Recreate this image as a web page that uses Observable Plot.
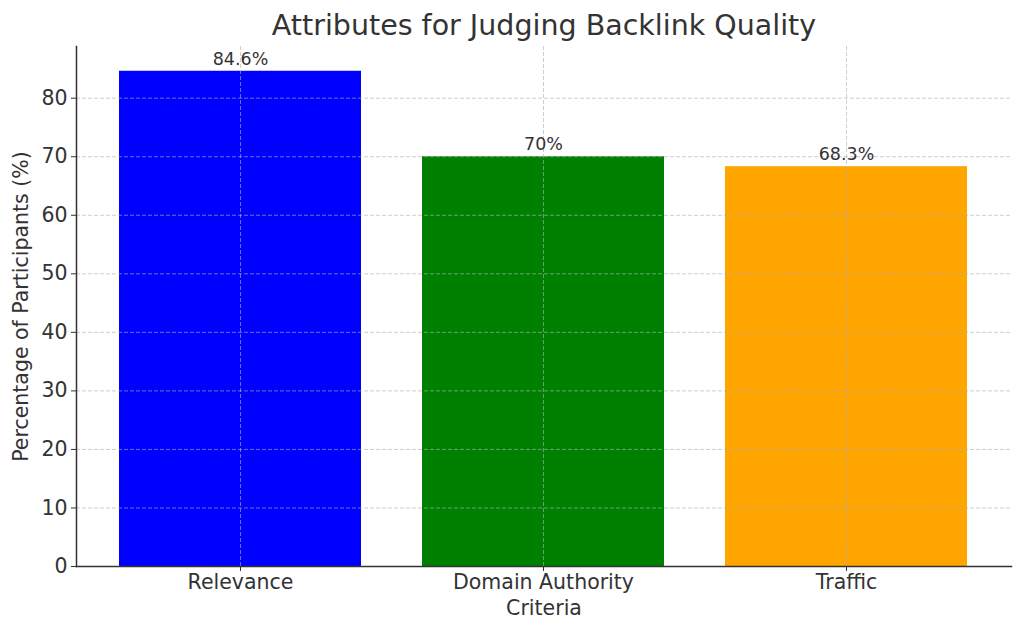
<!DOCTYPE html>
<html>
<head>
<meta charset="utf-8">
<script src="https://cdn.jsdelivr.net/npm/d3@7"></script>
<script src="https://cdn.jsdelivr.net/npm/@observablehq/plot@0.6"></script>
<style>
  html, body { margin: 0; padding: 0; background: #fff; }
  svg { font-family: "DejaVu Sans", sans-serif; }
</style>
</head>
<body>
<div id="chart"></div>
<script>
const categories = ["Relevance", "Domain Authority", "Traffic"];
const percentages = [84.6, 70, 68.3];
const barLabels = ["84.6%", "70%", "68.3%"];
const colors = ["#0000ff", "#008000", "#ffa500"];
const yTicks = [0, 10, 20, 30, 40, 50, 60, 70, 80];
const titleText = "Attributes for Judging Backlink Quality";

const data = categories.map((c, i) => ({category: c, value: percentages[i], label: barLabels[i], color: colors[i]}));
const ink = "#333333";

const chart = Plot.plot({
  width: 1024,
  height: 635,
  marginLeft: 76,
  marginRight: 13,
  marginTop: 46,
  marginBottom: 69,
  style: {fontFamily: "DejaVu Sans, sans-serif", fontSize: "20px", color: ink, background: "#fff"},
  x: {domain: categories, paddingInner: 0.2, paddingOuter: 0.138, label: null},
  y: {domain: [0, 84.6 * 1.05], label: null},
  marks: [
    Plot.barY(data, {x: "category", y: "value", fill: "color"}),
    Plot.gridY(yTicks, {stroke: "#b0b0b0", strokeOpacity: 0.7, strokeDasharray: "4,2", strokeWidth: 0.9}),
    Plot.gridX(categories, {stroke: "#b0b0b0", strokeOpacity: 0.7, strokeDasharray: "4,2", strokeWidth: 0.9}),
    Plot.axisY(yTicks, {tickSize: 5, tickPadding: 4, fontSize: 20.5, fill: ink, stroke: ink, label: null}),
    Plot.axisX({tickSize: 5, tickPadding: 3, fontSize: 20.5, fill: ink, stroke: ink, label: null}),
    Plot.frame({anchor: "left", stroke: ink, strokeWidth: 1.5}),
    Plot.frame({anchor: "bottom", stroke: ink, strokeWidth: 1.5}),
    Plot.text(data, {x: "category", y: "value", text: "label", dy: -12, fontSize: 17.5, fill: ink}),
    Plot.text([titleText], {frameAnchor: "top", dy: -21, fontSize: 28.5, fill: ink, lineAnchor: "middle"}),
    Plot.text(["Criteria"], {frameAnchor: "bottom", dy: 42, fontSize: 20.5, fill: ink, lineAnchor: "middle"}),
    Plot.text(["Percentage of Participants (%)"], {frameAnchor: "left", dx: -55, rotate: -90, textAnchor: "middle", lineAnchor: "middle", fontSize: 20.5, fill: ink})
  ]
});
document.getElementById("chart").appendChild(chart);
</script>
</body>
</html>
